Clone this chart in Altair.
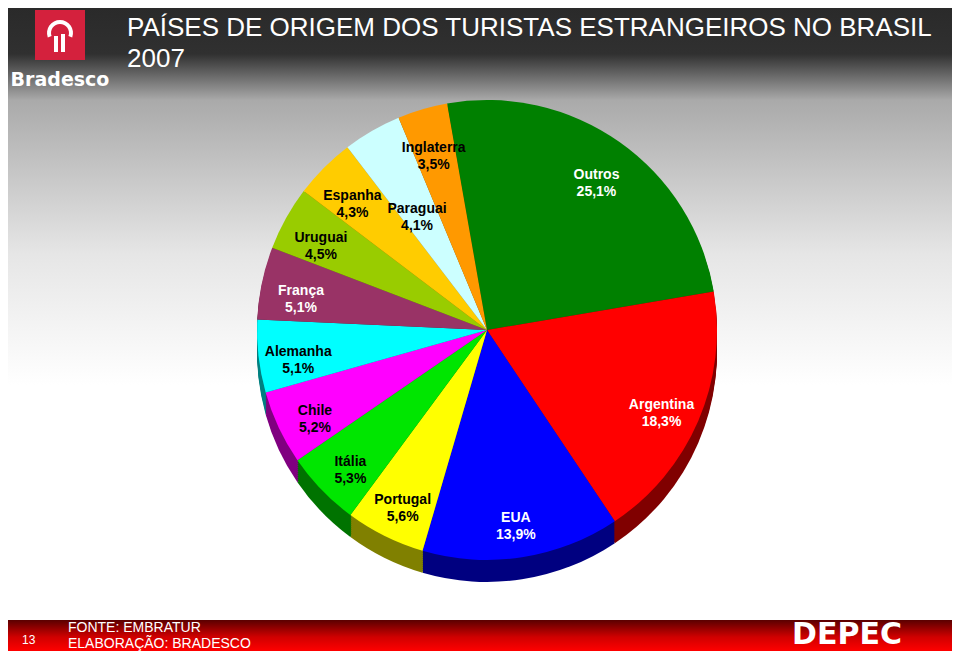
import math
import altair as alt
import pandas as pd

# ---- data ----
paises = ["Outros", "Argentina", "EUA", "Portugal", "Itália", "Chile",
          "Alemanha", "França", "Uruguai", "Espanha", "Paraguai", "Inglaterra"]
valores = [25.1, 18.3, 13.9, 5.6, 5.3, 5.2, 5.1, 5.1, 4.5, 4.3, 4.1, 3.5]
rotulos = ["25,1%", "18,3%", "13,9%", "5,6%", "5,3%", "5,2%",
           "5,1%", "5,1%", "4,5%", "4,3%", "4,1%", "3,5%"]

titulo = ["PAÍSES DE ORIGEM DOS TURISTAS ESTRANGEIROS NO BRASIL", "2007"]
fonte = ["FONTE: EMBRATUR", "ELABORAÇÃO: BRADESCO"]

# ---- styles ----
cores = ["#008000", "#FF0000", "#0000FF", "#FFFF00", "#00E600", "#FF00FF",
         "#00FFFF", "#993366", "#99CC00", "#FFCC00", "#CCFFFF", "#FF9900"]
cores_lado = ["#004000", "#800000", "#000080", "#808000", "#007300", "#800080",
              "#008080", "#4D1A33", "#4D6600", "#806600", "#668080", "#804D00"]
cores_texto = ["#FFFFFF", "#FFFFFF", "#FFFFFF", "#000000", "#000000", "#000000",
               "#000000", "#FFFFFF", "#000000", "#000000", "#000000", "#000000"]

W, H = 944, 643
CX, CY, R = 479, 322, 230
DEPTH = 22
A0 = math.radians(350)
FONT = "Liberation Sans, Arial, sans-serif"

df = pd.DataFrame({
    "pais": paises,
    "valor": valores,
    "rotulo": rotulos,
    "idx": list(range(len(paises))),
})
df["texto"] = df["pais"] + "\n" + df["rotulo"]

one = pd.DataFrame({"a": [0]})

ang_range = [A0, A0 + 2 * math.pi]
theta = alt.Theta("valor:Q", stack=True, scale=alt.Scale(range=ang_range))
order = alt.Order("idx:Q", sort="ascending")

# background panels
bg = alt.Chart(one).mark_rect(
    color=alt.Gradient(gradient="linear", x1=0, y1=0, x2=0, y2=1,
                       stops=[alt.GradientStop(color="#a9a9a9", offset=0),
                              alt.GradientStop(color="#e6e6e6", offset=0.3),
                              alt.GradientStop(color="#ffffff", offset=0.55),
                              alt.GradientStop(color="#ffffff", offset=1)])
).encode(x=alt.value(0), x2=alt.value(W), y=alt.value(90), y2=alt.value(612))

header = alt.Chart(one).mark_rect(
    color=alt.Gradient(gradient="linear", x1=0, y1=0, x2=0, y2=1,
                       stops=[alt.GradientStop(color="#2a2a2a", offset=0),
                              alt.GradientStop(color="#303030", offset=0.5),
                              alt.GradientStop(color="#a9a9a9", offset=1)])
).encode(x=alt.value(0), x2=alt.value(W), y=alt.value(0), y2=alt.value(92))

footer = alt.Chart(one).mark_rect(
    color=alt.Gradient(gradient="linear", x1=0, y1=0, x2=0, y2=1,
                       stops=[alt.GradientStop(color="#5a0000", offset=0),
                              alt.GradientStop(color="#d00000", offset=0.55),
                              alt.GradientStop(color="#ff0000", offset=1)])
).encode(x=alt.value(0), x2=alt.value(W), y=alt.value(612), y2=alt.value(H))

# logo
logo_box = alt.Chart(one).mark_rect(color="#D4213D").encode(
    x=alt.value(27), x2=alt.value(77), y=alt.value(2), y2=alt.value(52))
logo_arc = alt.Chart(one).mark_arc(
    color="white", innerRadius=9, outerRadius=13,
    theta=math.radians(250), theta2=math.radians(470)
).encode(x=alt.value(52), y=alt.value(25))
logo_bar1 = alt.Chart(one).mark_rect(color="white").encode(
    x=alt.value(46), x2=alt.value(50), y=alt.value(28), y2=alt.value(44))
logo_bar2 = alt.Chart(one).mark_rect(color="white").encode(
    x=alt.value(53), x2=alt.value(57), y=alt.value(26), y2=alt.value(44))
logo_txt = alt.Chart(one).mark_text(
    text="Bradesco", color="white", font="DejaVu Sans", fontWeight="bold",
    fontSize=19, align="center", baseline="alphabetic"
).encode(x=alt.value(52), y=alt.value(78))

title_layers = [
    alt.Chart(one).mark_text(
        text=t, color="white", font=FONT, fontSize=26, align="left",
        baseline="alphabetic"
    ).encode(x=alt.value(119), y=alt.value(yy))
    for t, yy in zip(titulo, [28, 59])
]

# pie: side (depth) layers then top
side_layers = []
for off in range(DEPTH, 0, -2):
    side_layers.append(
        alt.Chart(df).mark_arc(outerRadius=R).encode(
            theta=theta, order=order,
            color=alt.Color("pais:N", scale=alt.Scale(domain=paises, range=cores_lado),
                            legend=None),
            x=alt.value(CX), y=alt.value(CY + off),
        )
    )

top = alt.Chart(df).mark_arc(outerRadius=R).encode(
    theta=theta, order=order,
    color=alt.Color("pais:N", scale=alt.Scale(domain=paises, range=cores),
                    legend=None),
    x=alt.value(CX), y=alt.value(CY),
)

# labels: mid-angle of each slice computed from the cumulative share
lab_base = alt.Chart(df).transform_window(
    cum="sum(valor)", sort=[alt.SortField("idx", order="ascending")],
    frame=[None, 0]
).transform_calculate(mid="datum.cum - datum.valor / 2")


def label_layer(filtro, raio):
    return lab_base.transform_filter(filtro).mark_text(
        radius=raio, font=FONT, fontWeight="bold", fontSize=14, lineBreak="\n",
        align="center", baseline="middle", lineHeight=17
    ).encode(
        theta=alt.Theta("mid:Q", scale=alt.Scale(domain=[0, 100], range=ang_range)),
        text="texto:N",
        color=alt.Color("pais:N", scale=alt.Scale(domain=paises, range=cores_texto),
                        legend=None),
        x=alt.value(CX), y=alt.value(CY),
    )


labels_out = label_layer("datum.pais != 'Paraguai'", 190)
labels_in = label_layer("datum.pais == 'Paraguai'", 140)

pagina = alt.Chart(one).mark_text(
    text="13", color="white", font=FONT, fontSize=12, align="left", baseline="alphabetic"
).encode(x=alt.value(14), y=alt.value(636))

fonte_layers = [
    alt.Chart(one).mark_text(
        text=t, color="white", font=FONT, fontSize=14, align="left",
        baseline="alphabetic"
    ).encode(x=alt.value(60), y=alt.value(yy))
    for t, yy in zip(fonte, [624, 640])
]

depec = alt.Chart(one).mark_text(
    text="DEPEC", color="white", font="DejaVu Sans", fontWeight="bold",
    fontSize=30, align="left", baseline="alphabetic"
).encode(x=alt.value(784), y=alt.value(636))

chart = alt.layer(
    bg, header, footer, logo_box, logo_arc, logo_bar1, logo_bar2, logo_txt,
    *title_layers, *side_layers, top, labels_out, labels_in, pagina,
    *fonte_layers, depec
).resolve_scale(color="independent").properties(
    width=W, height=H, padding=0,
    autosize=alt.AutoSizeParams(type="none"),
).configure_view(stroke=None).configure(background="white")

chart.save("out.html", embed_options={"renderer": "svg", "actions": False})
